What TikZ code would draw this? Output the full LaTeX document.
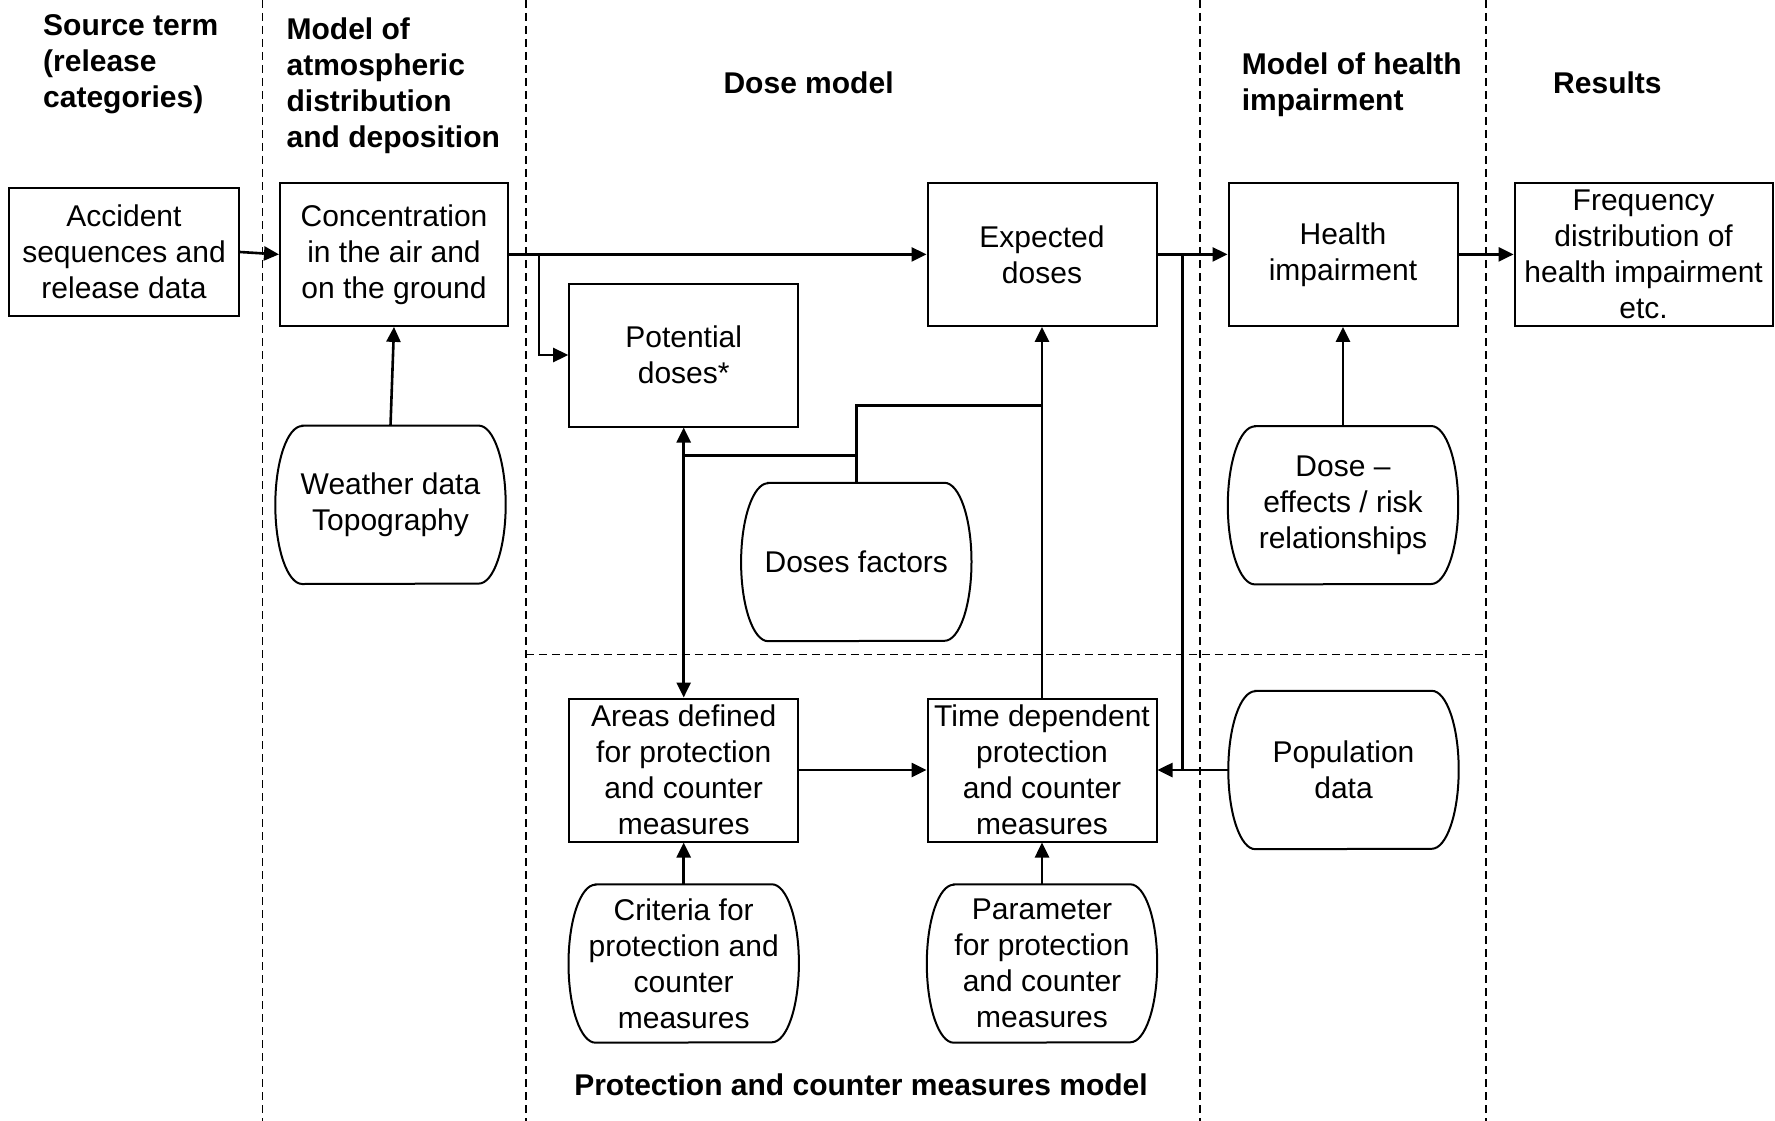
\documentclass[tikz,border=0pt]{standalone}
\usepackage{fontspec}
\setmainfont{Liberation Sans}
\usetikzlibrary{arrows.meta,calc}
\newcommand\blobpath[1]{\draw[blobline] ([xshift=27pt]#1.north west) -- ([xshift=-27pt]#1.north east) arc[start angle=90, end angle=-90, x radius=27pt, y radius=79pt] -- ([xshift=27pt]#1.south west) arc[start angle=270, end angle=90, x radius=27pt, y radius=79pt] -- cycle;}
\begin{document}
\begin{tikzpicture}[x=1pt,y=-1pt,
  every node/.style={font=\fontsize{30}{36}\selectfont, align=center, inner sep=0pt},
  box/.style={draw, line width=2pt, minimum width=229pt, minimum height=143pt},
  blobnode/.style={minimum width=230pt, minimum height=158pt},
  blobline/.style={line width=2pt},
  hdr/.style={font=\fontsize{30}{36}\selectfont\bfseries, align=left},
  conn/.style={line width=2.6pt},
  arr/.style={conn, -{Triangle[length=15pt,width=14pt]}},
  darr/.style={conn, {Triangle[length=15pt,width=14pt]}-{Triangle[length=15pt,width=14pt]}},
  divider/.style={line width=1.5pt, dash pattern=on 8pt off 5pt},
]
\useasboundingbox[fill=white] (0,0) rectangle (1775,1121);

% dividers
\draw[divider] (262.6,0) -- (262.6,1121);
\draw[divider] (525.8,0) -- (525.8,1121);
\draw[divider] (1200,0) -- (1200,1121);
\draw[divider] (1486,0) -- (1486,1121);
\draw[divider] (525.8,654.3) -- (1486,654.3);

% headers (base anchor = baseline of last line)
\node[hdr, anchor=base west] (h1) at (43,107.3) {Source term\\(release\\categories)};
\node[hdr, anchor=base west] (h2) at (286.4,147.3) {Model of\\atmospheric\\distribution\\and deposition};
\node[hdr, anchor=base] (h3) at (808.6,93.3) {Dose model};
\node[hdr, anchor=base west] (h4) at (1241.6,111) {Model of health\\impairment};
\node[hdr, anchor=base] (h5) at (1607.4,93.3) {Results};
\node[hdr, anchor=base] (h6) at (861,1095) {Protection and counter measures model};

% boxes
\node[box, minimum width=230pt, minimum height=128pt] (acc) at (124,252) {Accident\\sequences and\\release data};
\node[box, minimum width=228pt] (conc) at (394,254.4) {Concentration\\in the air and\\on the ground};
\node[box] (pot) at (683.7,355) {Potential\\doses*};
\node[box] (exp) at (1042,254.4) {Expected\\doses};
\node[box] (hlth) at (1343,254.4) {Health\\impairment};
\node[box, minimum width=258pt] (freq) at (1643.6,254.4) {Frequency\\distribution of\\health impairment\\etc.};
\node[box] (area) at (683.7,770) {Areas defined\\for protection\\and counter\\measures};
\node[box] (time) at (1042,770) {Time dependent\\protection\\and counter\\measures};

% rounded data shapes
\node[blobnode] (wthr) at (390.5,504.8) {Weather data\\Topography};
\node[blobnode] (dfac) at (856.3,562) {Doses factors};
\node[blobnode] (deff) at (1343,505.2) {Dose –\\effects / risk\\relationships};
\node[blobnode] (pop) at (1343.5,770) {Population\\data};
\node[blobnode] (crit) at (683.7,963.5) {Criteria for\\protection and\\counter\\measures};
\node[blobnode] (param) at (1042,963.5) {Parameter\\for protection\\and counter\\measures};
\blobpath{wthr}
\blobpath{dfac}
\blobpath{deff}
\blobpath{pop}
\blobpath{crit}
\blobpath{param}

% connectors
\coordinate (br1) at (538.8,254.4);
\coordinate (br2) at (1182.7,254.4);
\coordinate (j1) at (1042,405.3);
\coordinate (j2) at (683.7,455.3);
\draw[arr] (acc.east) -- (conc.west);
\draw[arr] (conc.east) -- (exp.west);
\draw[arr] (br1) |- (pot.west);
\draw[arr] (wthr.north) -- (conc.south);
\draw[darr] (pot.south) -- (area.north);
\draw[arr] (time.north) -- (exp.south);
\draw[conn] (dfac.north) |- (j1);
\draw[conn] (dfac.north |- j2) -- (j2);
\draw[arr] (exp.east) -- (hlth.west);
\draw[conn] (br2) -- (br2 |- time.east);
\draw[arr] (pop.west) -- (time.east);
\draw[arr] (deff.north) -- (hlth.south);
\draw[arr] (hlth.east) -- (freq.west);
\draw[arr] (crit.north) -- (area.south);
\draw[arr] (param.north) -- (time.south);
\draw[arr] (area.east) -- (time.west);
\end{tikzpicture}
\end{document}
